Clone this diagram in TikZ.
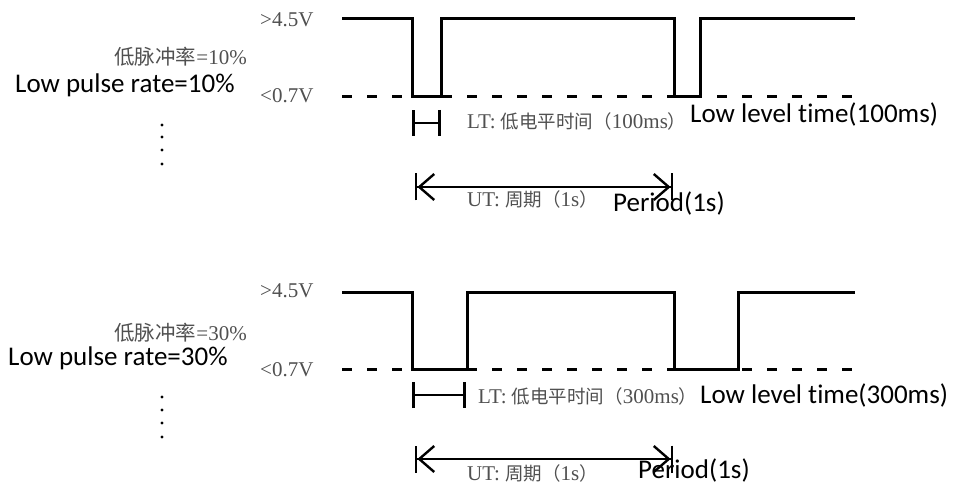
\documentclass[tikz,border=0pt]{standalone}
\usepackage{fontspec}
\setmainfont{Liberation Serif}
\newfontfamily\cjk{Noto Sans CJK SC}
\newfontfamily\calib[Ligatures=NoCommon]{Carlito}
\usetikzlibrary{arrows.meta}
\definecolor{lblgray}{HTML}{505050}
\newcommand{\zh}[2][18.5]{{\fontsize{#1}{#1}\selectfont\cjk #2}}
\tikzset{
  wave/.style={line width=3pt, line join=miter},
  lowdash/.style={line width=3pt, dash pattern=on 10pt off 15pt},
  ltbar/.style={line width=2.6pt, {Bar[width=26pt]}-{Bar[width=26pt]}},
  utarr/.style={line width=2.4pt,
    {Bar[width=27pt]Straight Barb[length=15pt,width=26pt]}-{Straight Barb[length=15pt,width=26pt]Bar[width=27pt]}},
  vlbl/.style={anchor=base west, inner sep=0pt, text=lblgray,
               font=\fontsize{21}{24}\selectfont},
  enlbl/.style={anchor=base west, inner sep=0pt, text=black,
                font=\calib\fontsize{27}{31}\selectfont},
  vdot/.style={circle, fill=black, inner sep=0pt, minimum size=3.2pt}}

\begin{document}
\begin{tikzpicture}[x=1pt, y=-1pt]
  \useasboundingbox (0,0) rectangle (955,486);

  % low pulse rate 10%
  \draw[lowdash] (342,97) -- (855,97);
  \draw[wave] (342,19) -| (412,97) -| (441,19) -| (674,97) -| (700,19) -- (855,19);
  \node[vlbl] (hiA) at (260,27) {>4.5V};
  \node[vlbl] (loA) at (260,103) {<0.7V};
  \node[vlbl, anchor=base east] (rateA) at (247,65) {\zh[20.5]{低脉冲率}=10\%};
  \node[enlbl] (rateAen) at (15,93) {Low pulse rate=10\%};
  \foreach \y [count=\i] in {125,137,150,164}
    \node[vdot] (dotA\i) at (162,\y) {};
  \coordinate (ltAs) at (412,123);
  \coordinate (ltAe) at (441,123);
  \draw[ltbar] (ltAs) -- (ltAe);
  \node[vlbl] (ltA) at (467,129) {LT: \zh{低电平时间（}100ms\zh{）}};
  \node[enlbl] (ltAen) at (690,123) {Low level time(100ms)};
  \coordinate (utAs) at (415,187);
  \coordinate (utAe) at (673,187);
  \draw[utarr] (utAs) -- (utAe);
  \node[vlbl] (utA) at (467,207) {UT: \zh{周期（}1s\zh{）}};
  \node[enlbl] (utAen) at (613,212) {Period(1s)};

  % low pulse rate 30%
  \draw[lowdash] (342,369) -- (855,369);
  \draw[wave] (342,292) -| (412,369) -| (467,292) -| (674,369) -| (738,292) -- (855,292);
  \node[vlbl] (hiB) at (260,298) {>4.5V};
  \node[vlbl] (loB) at (260,376) {<0.7V};
  \node[vlbl, anchor=base east] (rateB) at (247,340) {\zh[20.5]{低脉冲率}=30\%};
  \node[enlbl] (rateBen) at (8,365) {Low pulse rate=30\%};
  \foreach \y [count=\i] in {397,410,423,437}
    \node[vdot] (dotB\i) at (162,\y) {};
  \coordinate (ltBs) at (412,395);
  \coordinate (ltBe) at (466,395);
  \draw[ltbar] (ltBs) -- (ltBe);
  \node[vlbl] (ltB) at (478,403) {LT: \zh{低电平时间（}300ms\zh{）}};
  \node[enlbl] (ltBen) at (700,403) {Low level time(300ms)};
  \coordinate (utBs) at (415,459);
  \coordinate (utBe) at (673,459);
  \draw[utarr] (utBs) -- (utBe);
  \node[vlbl] (utB) at (467,480) {UT: \zh{周期（}1s\zh{）}};
  \node[enlbl] (utBen) at (638,478) {Period(1s)};
\end{tikzpicture}
\end{document}
